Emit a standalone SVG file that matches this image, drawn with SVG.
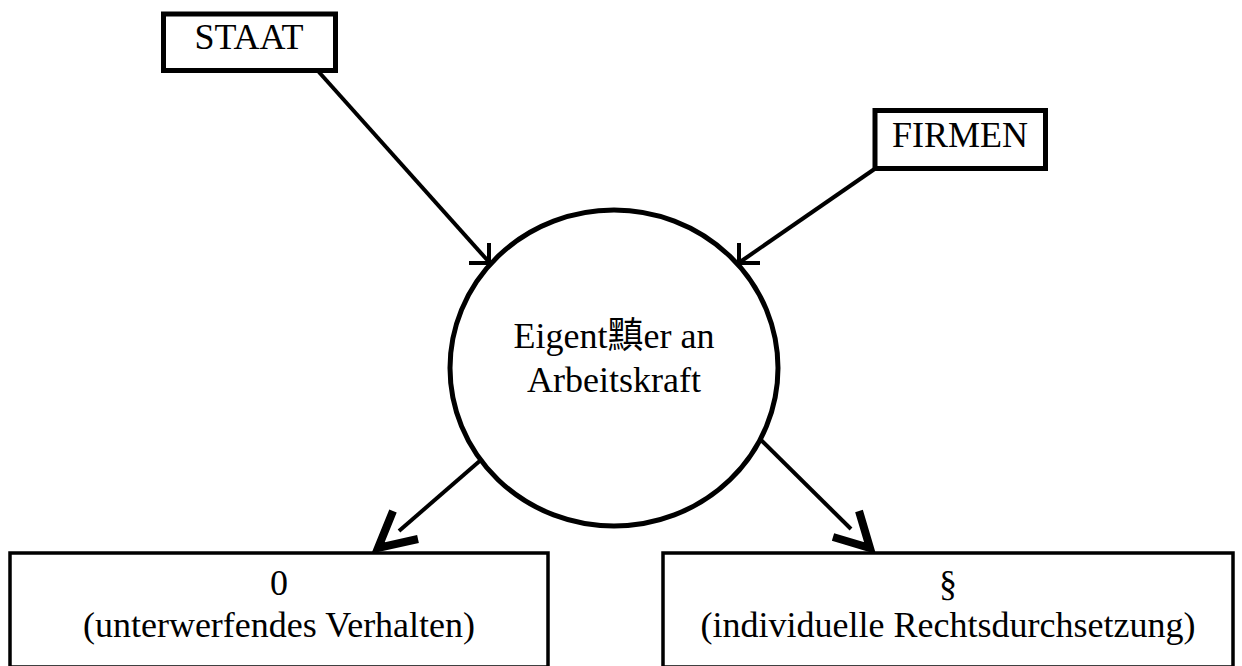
<svg xmlns="http://www.w3.org/2000/svg" width="1242" height="666" viewBox="0 0 1242 666">
  <style>
    .box { fill: #ffffff; stroke: #000000; }
    .lbl { font-family: "Liberation Serif", "Times New Roman", "Noto Sans CJK SC", serif; font-size: 36px; fill: #000000; text-anchor: middle; }
    .edge { fill: none; stroke: #000000; stroke-width: 4; }
    .tick { fill: none; stroke: #000000; stroke-width: 4; stroke-linecap: butt; }
    .head { fill: none; stroke: #000000; stroke-width: 8; stroke-linejoin: miter; stroke-miterlimit: 10; stroke-linecap: butt; }
  </style>
  <rect width="1242" height="666" fill="#ffffff"/>

  <g id="connectors">
    <!-- inflows into the centre -->
    <line class="edge" x1="318" y1="71" x2="489" y2="262"/>
    <path class="tick" d="M469,263 H491 M489,243 V265"/>
    <line class="edge" x1="876" y1="168" x2="740" y2="262"/>
    <path class="tick" d="M738,263 H760 M739,243 V265"/>
    <!-- outflows to the two outcomes -->
    <line class="edge" x1="482" y1="459" x2="399" y2="531"/>
    <polyline class="head" points="393,511 378,548 418,539"/>
    <line class="edge" x1="761" y1="440" x2="851" y2="529"/>
    <polyline class="head" points="859,511 870,548 833,537"/>
  </g>

  <g id="node-staat">
    <rect class="box" x="163.5" y="14" width="172" height="56.5" stroke-width="5"/>
    <text class="lbl" x="249" y="49">STAAT</text>
  </g>

  <g id="node-firmen">
    <rect class="box" x="875" y="110.5" width="170.5" height="58" stroke-width="5"/>
    <text class="lbl" x="960" y="147">FIRMEN</text>
  </g>

  <g id="node-eigentuemer">
    <ellipse cx="614" cy="368" rx="164" ry="158" fill="none" stroke="#000000" stroke-width="5"/>
    <text class="lbl" x="614" y="348">Eigent黰er an</text>
    <text class="lbl" x="614" y="392">Arbeitskraft</text>
  </g>

  <g id="node-unterwerfend">
    <rect class="box" x="10" y="553" width="538" height="114" stroke-width="3.5"/>
    <text class="lbl" x="279" y="595">0</text>
    <text class="lbl" x="279" y="637">(unterwerfendes Verhalten)</text>
  </g>

  <g id="node-recht">
    <rect class="box" x="663" y="553" width="570" height="114" stroke-width="3.5"/>
    <text class="lbl" x="948" y="595">§</text>
    <text class="lbl" x="948" y="637">(individuelle Rechtsdurchsetzung)</text>
  </g>
</svg>
